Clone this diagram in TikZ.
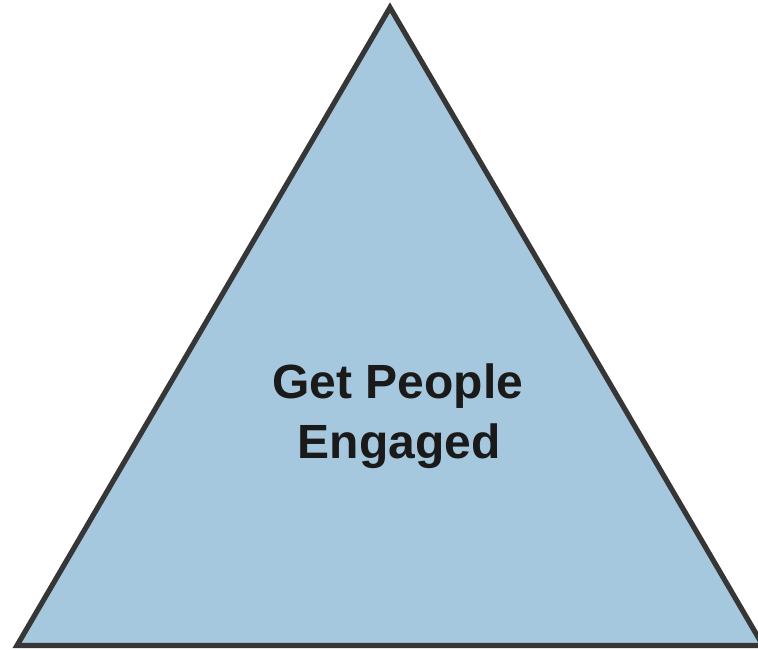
\documentclass[tikz,border=0pt]{standalone}
\usepackage{fontspec}
\setmainfont{Liberation Sans}
\definecolor{trifill}{HTML}{A6C8DF}
\definecolor{trline}{HTML}{363636}
\definecolor{txt}{HTML}{1A1A1A}
\begin{document}
\begin{tikzpicture}[x=1pt,y=1pt,
  tri/.style={fill=trifill,draw=trline,line width=5.2pt,line join=miter},
  lbl/.style={anchor=base,inner sep=0pt,text=txt,font=\fontsize{48}{60}\selectfont\bfseries}]
\useasboundingbox (0,0) rectangle (758,649);
\clip (0,0) rectangle (758,649);
\coordinate (apex) at (390,641.5);
\coordinate (bl) at (17,3.5);
\coordinate (br) at (763,3.5);
\draw[tri] (bl) -- (apex) -- (br) -- cycle;
\node[lbl] (l1) at (398,251) {Get People};
\node[lbl] (l2) at (399,191) {Engaged};
\end{tikzpicture}
\end{document}
